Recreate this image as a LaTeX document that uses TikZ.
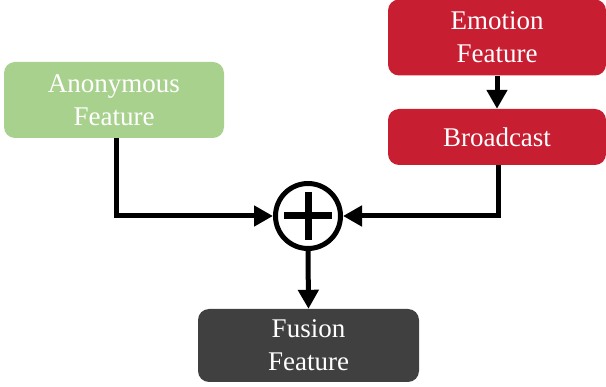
\documentclass[tikz,border=0pt]{standalone}
\usepackage{fontspec}
\setmainfont{Liberation Serif}
\usetikzlibrary{arrows.meta}
\definecolor{anongreen}{HTML}{A9D18E}
\definecolor{emored}{HTML}{C81E32}
\definecolor{fusegray}{HTML}{404040}
\begin{document}
\begin{tikzpicture}[x=1pt,y=-1pt,
  featbox/.style={rectangle, rounded corners=11pt, draw=none, inner sep=0pt,
    align=center, text=white, font=\fontsize{27}{33}\selectfont},
  arr/.style={line width=5pt, -{Triangle[width=20pt,length=19pt]}},
  link/.style={line width=5pt}]
\useasboundingbox (0,0) rectangle (606,387);

% input and output feature boxes
\node[featbox, fill=anongreen, minimum width=220pt, minimum height=76pt] (anon) at (114,100) {Anonymous\\Feature};
\node[featbox, fill=emored, minimum width=218pt, minimum height=76pt] (emo) at (497,37.5) {Emotion\\Feature};
\node[featbox, fill=emored, minimum width=218pt, minimum height=56pt] (broad) at (497,137) {Broadcast};
\node[featbox, fill=fusegray, minimum width=221pt, minimum height=73pt] (fuse) at (308.5,345.5) {Fusion\\Feature};

% element-wise addition
\node[circle, draw, line width=5pt, minimum size=65pt, inner sep=0pt] (plus) at (308,216) {};
\draw[line width=7pt] (plus.center) ++(-24,0) -- ++(48,0);
\draw[line width=7pt] (plus.center) ++(0,-24) -- ++(0,48);

% connectors
\draw[arr] (emo.south) -- (broad.north);
\draw[arr] (anon.south) ++(2,0) |- (plus.west);
\draw[arr] (broad.south) ++(1,0) |- (plus.east);
\draw[arr] (plus.south) -- (fuse.north);
\end{tikzpicture}
\end{document}
